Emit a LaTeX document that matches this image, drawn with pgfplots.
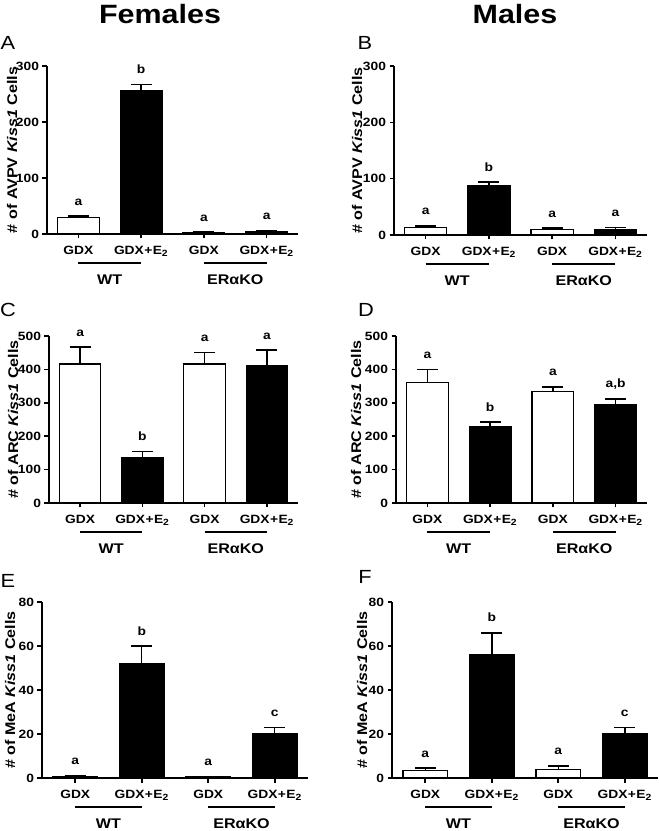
\documentclass[border=0pt]{standalone}
\usepackage{fontspec}
\setmainfont{Liberation Sans}[FakeStretch=1.15]
\usepackage{pgfplots}
\pgfplotsset{compat=1.18}
\newcommand{\fs}[1]{\fontsize{#1}{#1}\selectfont}
\newcommand{\tl}{\bfseries\fs{12}}
\newcommand{\gdx}{{\tl GDX}}
\newcommand{\gdxe}{{\tl GDX\hspace{0.4pt}+\hspace{0.4pt}E\textsubscript{\fs{9}2}}}
\pgfplotsset{
  kiss/.style={
    scale only axis,
    xmin=-0.5, xmax=3.5, ymin=0,
    enlarge x limits=false, enlarge y limits=false,
    axis x line*=bottom, axis y line*=left,
    axis line style={-, line width=1.6pt, black},
    tick style={line width=1.6pt, black},
    major tick length=4.5pt, tick align=outside,
    xtick={0,1,2,3},
    xticklabels={\gdx, \gdxe, \gdx, \gdxe},
    xticklabel style={font=\tl, yshift=-4pt},
    yticklabel={\tl\pgfmathprintnumber{\tick}},
    yticklabel style={font=\tl},
    /pgf/number format/assume math mode=true,
    every axis y label/.style={at={(rel axis cs:0,0.5)}, rotate=90, anchor=center, yshift=35pt, font=\bfseries\fs{14}},
    clip=false,
    ybar, bar width=0.667,
  },
  wbar/.style={fill=white, draw=black, line width=1.2pt, bar shift=0pt,
    error bars/.cd, y dir=plus, y explicit,
    error bar style={line width=1.5pt, black},
    error mark options={rotate=90, line width=1.5pt, mark size=10.5pt, black}},
  bbar/.style={fill=black, draw=black, line width=1.2pt, bar shift=0pt,
    error bars/.cd, y dir=plus, y explicit,
    error bar style={line width=1.5pt, black},
    error mark options={rotate=90, line width=1.5pt, mark size=10.5pt, black}},
}
\newcommand{\lab}[3]{\node[font=\bfseries\fs{12}, anchor=base] at ([yshift=11pt]axis cs:#1,#2) {#3};}
\newcommand{\groups}{%
  \draw[line width=1.3pt] ([yshift=-29pt]axis cs:0,0) -- ([yshift=-29pt]axis cs:1,0);
  \draw[line width=1.3pt] ([yshift=-29pt]axis cs:2,0) -- ([yshift=-29pt]axis cs:3,0);
  \node[font=\bfseries\fs{14}] at ([yshift=-46pt]axis cs:0.5,0) {WT};
  \node[font=\bfseries\fs{14}] at ([yshift=-46pt]axis cs:2.5,0) {ERαKO};
}
\begin{document}
\begin{tikzpicture}
\useasboundingbox (0pt,0pt) rectangle (660pt,831pt);
\node[font=\bfseries\fs{26.5}] at (160pt,817pt) {Females};
\node[font=\bfseries\fs{26.5}] at (515pt,817pt) {Males};
\node[font=\fs{19}] at (8pt,788pt) {A};
\node[font=\fs{19}] at (365pt,788pt) {B};
\node[font=\fs{19}] at (8pt,521pt) {C};
\node[font=\fs{19}] at (366pt,521pt) {D};
\node[font=\fs{19}] at (8pt,250pt) {E};
\node[font=\fs{19}] at (365pt,254pt) {F};
% Panel A
\begin{axis}[kiss, at={(47pt,597pt)}, anchor=south west, width=251pt, height=168pt,
  ymax=300, ytick={0,100,200,300}, ylabel={\# of AVPV \textit{Kiss1} Cells}]
\addplot[wbar] coordinates {(0,29) +- (0,3) (2,2.5) +- (0,0.7)};
\addplot[bbar] coordinates {(1,256) +- (0,11) (3,4) +- (0,1.5)};
\lab{0}{32}{a}\lab{1}{267}{b}\lab{2}{3.2}{a}\lab{3}{5.5}{a}
\groups
\end{axis}
% Panel B
\begin{axis}[kiss, at={(394pt,596pt)}, anchor=south west, width=253pt, height=169pt,
  ymax=300, ytick={0,100,200,300}, ylabel={\# of AVPV \textit{Kiss1} Cells},
  every axis y label/.append style={yshift=2pt}]
\addplot[wbar] coordinates {(0,14) +- (0,2) (2,10) +- (0,2)};
\addplot[bbar] coordinates {(1,87) +- (0,7) (3,10) +- (0,3)};
\lab{0}{16}{a}\lab{1}{94}{b}\lab{2}{12}{a}\lab{3}{13}{a}
\groups
\end{axis}
% Panel C
\begin{axis}[kiss, at={(49pt,328pt)}, anchor=south west, width=249pt, height=167pt,
  ymax=500, ytick={0,100,200,300,400,500}, ylabel={\# of ARC \textit{Kiss1} Cells},
  every axis y label/.append style={yshift=1pt}]
\addplot[wbar] coordinates {(0,416) +- (0,51) (2,416) +- (0,35)};
\addplot[bbar] coordinates {(1,137) +- (0,17) (3,410) +- (0,48)};
\lab{0}{467}{a}\lab{1}{154}{b}\lab{2}{451}{a}\lab{3}{458}{a}
\groups
\end{axis}
% Panel D
\begin{axis}[kiss, at={(396pt,328pt)}, anchor=south west, width=251pt, height=167pt,
  ymax=500, ytick={0,100,200,300,400,500}, ylabel={\# of ARC \textit{Kiss1} Cells},
  every axis y label/.append style={yshift=5pt}]
\addplot[wbar] coordinates {(0,361) +- (0,38) (2,333) +- (0,15)};
\addplot[bbar] coordinates {(1,229) +- (0,13) (3,296) +- (0,16)};
\lab{0}{399}{a}\lab{1}{242}{b}\lab{2}{348}{a}\lab{3}{312}{a,b}
\groups
\end{axis}
% Panel E
\begin{axis}[kiss, at={(42pt,53pt)}, anchor=south west, width=266pt, height=176pt,
  ymax=80, ytick={0,20,40,60,80}, ylabel={\# of MeA \textit{Kiss1} Cells},
  every axis y label/.append style={yshift=-3pt}]
\addplot[wbar] coordinates {(0,0.8) +- (0,0.4) (2,0.5) +- (0,0.2)};
\addplot[bbar] coordinates {(1,52) +- (0,8) (3,20) +- (0,3)};
\lab{0}{1.2}{a}\lab{1}{60}{b}\lab{2}{0.7}{a}\lab{3}{23}{c}
\groups
\end{axis}
% Panel F
\begin{axis}[kiss, at={(392pt,53pt)}, anchor=south west, width=266pt, height=176pt,
  ymax=80, ytick={0,20,40,60,80}, ylabel={\# of MeA \textit{Kiss1} Cells},
  every axis y label/.append style={yshift=-5pt}]
\addplot[wbar] coordinates {(0,3.5) +- (0,1) (2,4) +- (0,1.5)};
\addplot[bbar] coordinates {(1,56) +- (0,10) (3,20) +- (0,3)};
\lab{0}{4.5}{a}\lab{1}{66}{b}\lab{2}{5.5}{a}\lab{3}{23}{c}
\groups
\end{axis}
\end{tikzpicture}
\end{document}
